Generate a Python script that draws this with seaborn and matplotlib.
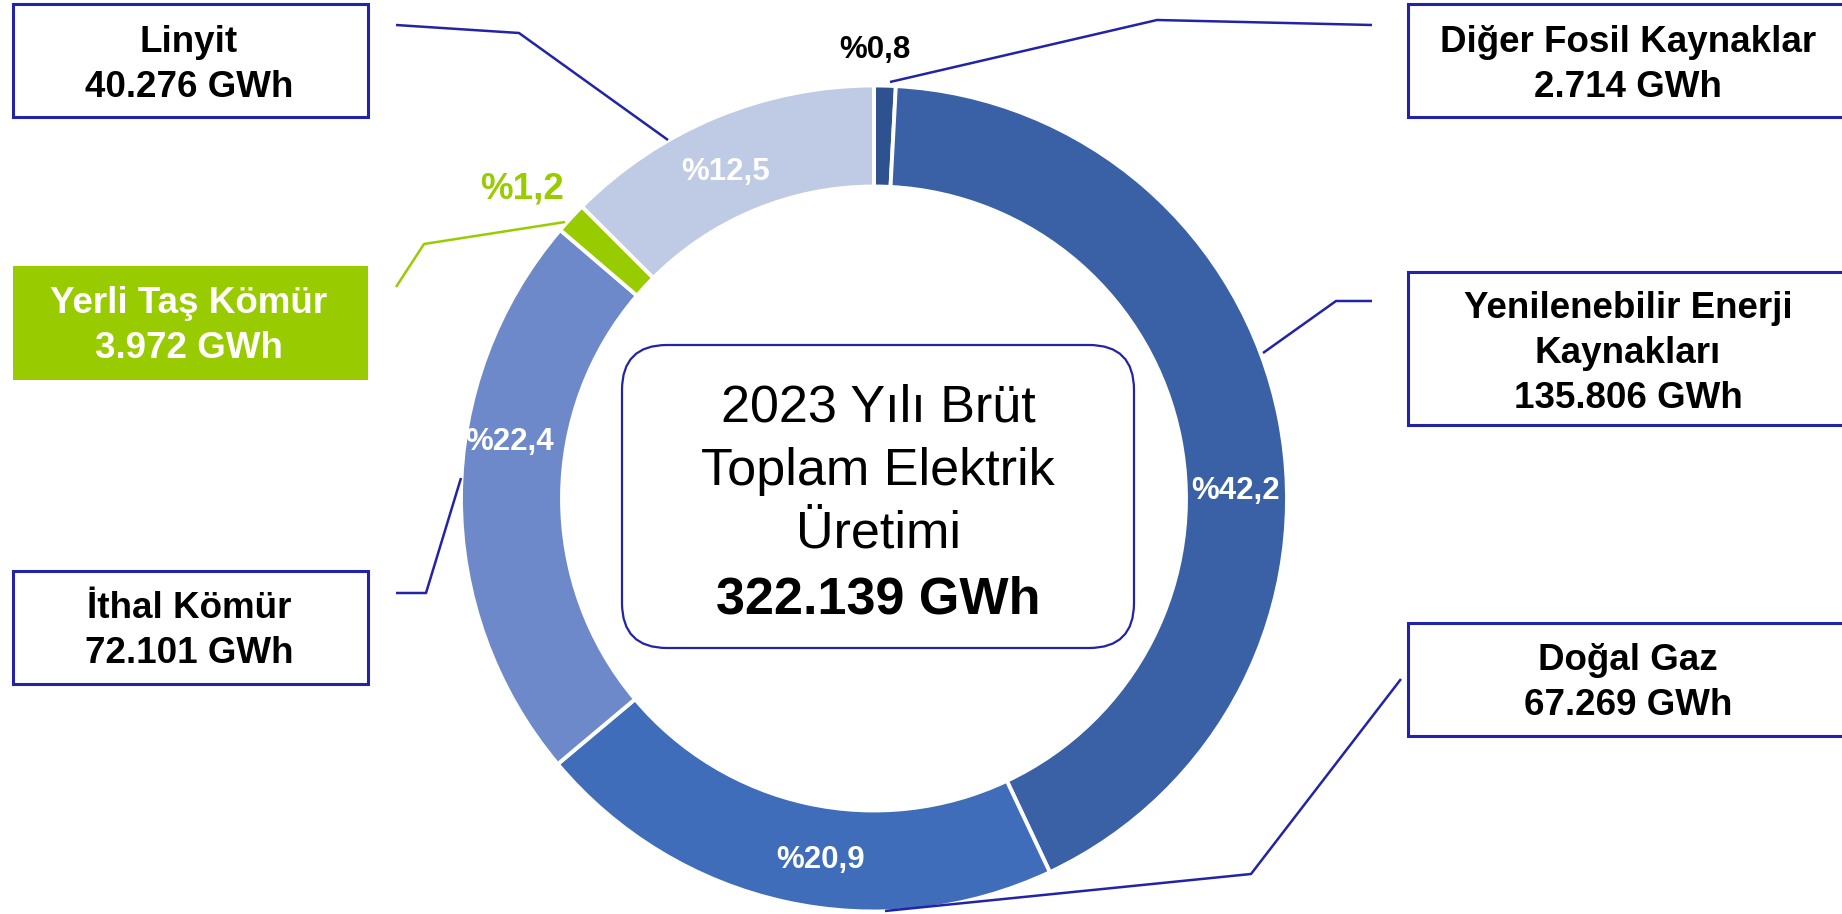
import matplotlib
matplotlib.use("Agg")
import matplotlib.pyplot as plt
import seaborn as sns
from matplotlib.patches import Rectangle, FancyBboxPatch

# ---------------- data ----------------
categories = ["Diğer Fosil Kaynaklar", "Yenilenebilir Enerji\nKaynakları", "Doğal Gaz",
              "İthal Kömür", "Yerli Taş Kömür", "Linyit"]
values_gwh = [2714, 135806, 67269, 72101, 3972, 40276]
value_labels = ["2.714 GWh", "135.806 GWh", "67.269 GWh", "72.101 GWh", "3.972 GWh", "40.276 GWh"]
total_label = "322.139 GWh"
center_title = ["2023 Yılı Brüt", "Toplam Elektrik", "Üretimi"]

# ---------------- style ----------------
sns.set_theme(style="white")
plt.rcParams["font.family"] = ["Liberation Sans", "DejaVu Sans"]

colors = ["#2E5190", "#3A60A6", "#3F6DB9", "#6E89C9", "#99CC00", "#BFCAE4"]
navy = "#2323A8"
green = "#99CC00"

W, H = 1842, 914
fig = plt.figure(figsize=(W / 100, H / 100), dpi=100)
ax = fig.add_axes([0, 0, 1, 1])

cx, cy, R, ring = 874, 498.5, 413, 101
ax.pie(values_gwh, colors=colors, startangle=-90, counterclock=True,
       radius=R, center=(cx, cy), frame=True,
       wedgeprops=dict(width=ring, edgecolor="white", linewidth=2.8))
ax.set_xlim(0, W)
ax.set_ylim(H, 0)
ax.set_aspect("equal")
ax.axis("off")

# percentage labels
total = sum(values_gwh)
pct_text = ["%" + f"{v / total * 100:.1f}".replace(".", ",") for v in values_gwh]
pct_pos = [(875, 50), (1236, 491), (821, 860), (510, 442), (522, 189), (726, 172)]
pct_col = ["black", "white", "white", "white", green, "white"]
pct_size = [22.5, 22.5, 22.5, 22.5, 26.5, 22.5]
for t, (x, y), c, s in zip(pct_text, pct_pos, pct_col, pct_size):
    ax.text(x, y, t, ha="center", va="center", fontsize=s, fontweight="bold", color=c)

# label boxes: (x0, y0, x1, y1) and first text baseline
boxes = [(1408, 4, 1900, 117), (1408, 272, 1900, 425), (1408, 623, 1900, 736),
         (12.5, 571, 368, 684), (12.5, 266, 368, 380), (12.5, 4, 368, 117)]
first_base = [52, 318, 670, 618, 313, 52]
line_step = 45
for i, (x0, y0, x1, y1) in enumerate(boxes):
    is_green = categories[i] == "Yerli Taş Kömür"
    if is_green:
        rect = Rectangle((x0, y0), x1 - x0, y1 - y0, facecolor=green, edgecolor="none")
        tc = "white"
    else:
        rect = Rectangle((x0, y0), x1 - x0, y1 - y0, facecolor="white",
                         edgecolor=navy, linewidth=2.2)
        tc = "black"
    ax.add_patch(rect)
    txt_x = 1628 if x0 > 1000 else 189
    lines = categories[i].split("\n") + [value_labels[i]]
    for k, ln in enumerate(lines):
        ax.text(txt_x, first_base[i] + k * line_step, ln, ha="center", va="baseline",
                fontsize=26.5, fontweight="bold", color=tc)

# leader lines
leaders = [
    ([1372, 1157, 890], [25, 20, 82], navy),
    ([1372, 1336, 1263], [301, 301, 353], navy),
    ([1401, 1251, 885], [679, 874, 911], navy),
    ([396, 426, 461], [593, 593, 478], navy),
    ([396, 424, 565], [287, 244, 222], green),
    ([396, 519, 668], [25, 33, 140], navy),
]
for xs, ys, c in leaders:
    ax.plot(xs, ys, color=c, linewidth=1.8, solid_capstyle="butt")

# centre box
cbox = FancyBboxPatch((622, 345), 1134 - 622, 648 - 345,
                      boxstyle="round,pad=0,rounding_size=45",
                      facecolor="white", edgecolor=navy, linewidth=1.6)
ax.add_patch(cbox)
for k, ln in enumerate(center_title):
    ax.text(878, 422 + k * 63, ln, ha="center", va="baseline", fontsize=37.5, color="black")
ax.text(878, 613, total_label, ha="center", va="baseline", fontsize=37.5,
        fontweight="bold", color="black")

fig.savefig("out.png", dpi=100)
